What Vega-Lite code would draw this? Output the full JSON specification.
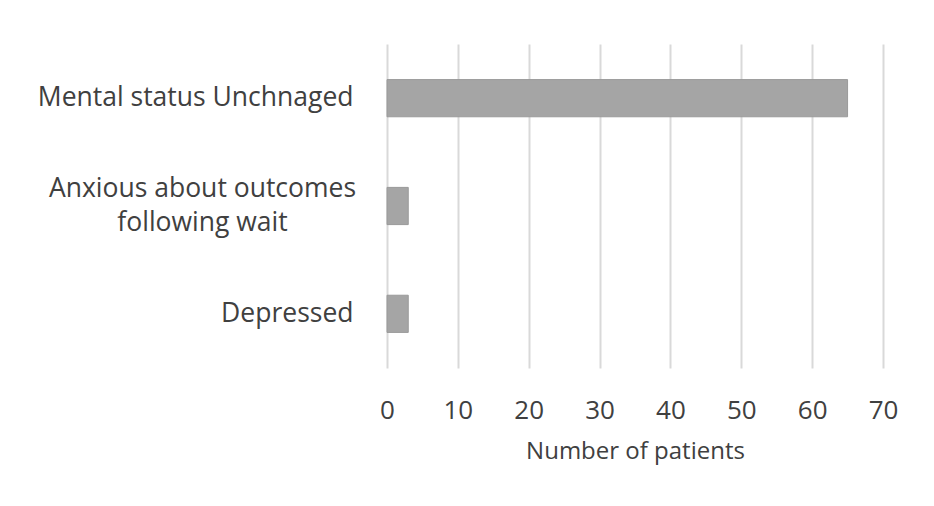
{
  "$schema": "https://vega.github.io/schema/vega-lite/v6.json",
  "autosize": {"type": "none"},
  "padding": {"left": 387, "top": 44, "right": 51, "bottom": 138},
  "width": 496,
  "height": 324,
  "background": "white",
  "data": {
    "values": [
      {"status": "Mental status Unchnaged", "patients": 65},
      {"status": "Anxious about outcomes following wait", "patients": 3},
      {"status": "Depressed", "patients": 3}
    ]
  },
  "mark": {"type": "bar", "color": "#a5a5a5", "stroke": "#9a9a9a", "strokeWidth": 1},
  "encoding": {
    "y": {
      "field": "status",
      "type": "nominal",
      "sort": null,
      "scale": {"paddingInner": 0.655, "paddingOuter": 0.33},
      "axis": {
        "title": null,
        "ticks": false,
        "domain": false,
        "labelFont": "Open Sans",
        "labelFontSize": 26.5,
        "labelColor": "#404040",
        "labelLimit": 400,
        "labelLineHeight": 34,
        "labelAlign": {"condition": {"test": "indexof(datum.value, 'Anxious') >= 0", "value": "center"}, "value": "right"},
        "labelPadding": {"condition": {"test": "indexof(datum.value, 'Anxious') >= 0", "value": 185}, "value": 34},
        "labelOffset": {"condition": {"test": "indexof(datum.value, 'Anxious') >= 0", "value": -17}, "value": 0},
        "labelExpr": "datum.value == 'Anxious about outcomes following wait' ? ['Anxious about outcomes', 'following wait'] : datum.value"
      }
    },
    "x": {
      "field": "patients",
      "type": "quantitative",
      "scale": {"domain": [0, 70], "nice": false},
      "axis": {
        "title": "Number of patients",
        "values": [0, 10, 20, 30, 40, 50, 60, 70],
        "ticks": false,
        "domain": false,
        "grid": true,
        "gridColor": "#d9d9d9",
        "gridWidth": 2,
        "labelFlush": false,
        "labelFont": "Open Sans",
        "labelFontSize": 26,
        "labelColor": "#404040",
        "labelPadding": 29,
        "titleFont": "Open Sans",
        "titleFontSize": 24,
        "titleFontWeight": "normal",
        "titleColor": "#404040",
        "titlePadding": 16
      }
    }
  },
  "config": {"view": {"stroke": null}}
}
